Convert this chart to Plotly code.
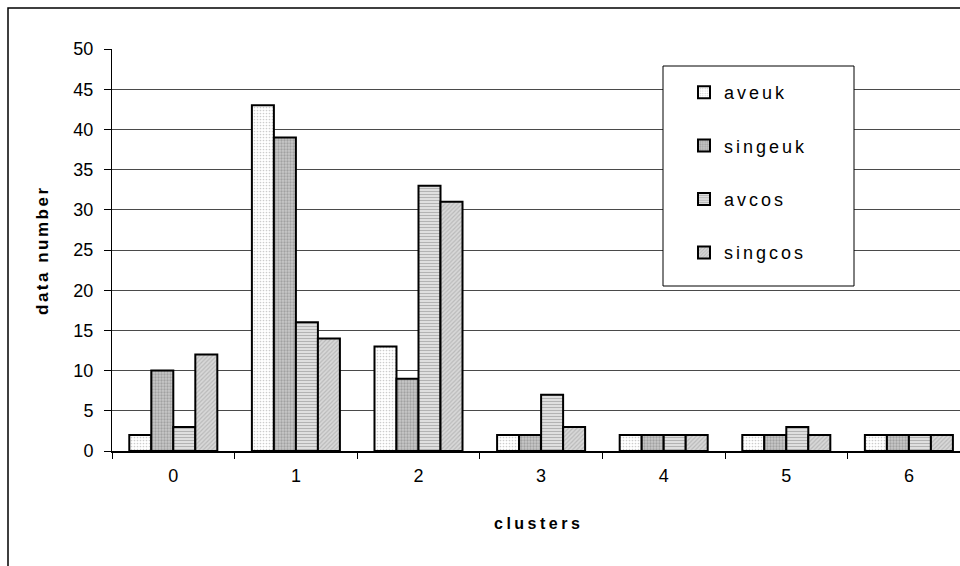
import plotly.graph_objects as go

clusters = ["0", "1", "2", "3", "4", "5", "6"]
aveuk = [2, 43, 13, 2, 2, 2, 2]
singeuk = [10, 39, 9, 2, 2, 2, 2]
avcos = [3, 16, 33, 7, 2, 3, 2]
singcos = [12, 14, 31, 3, 2, 2, 2]
y_ticks = [0, 5, 10, 15, 20, 25, 30, 35, 40, 45, 50]

FONT = "Liberation Sans, Arial, sans-serif"

def ls(t, px=3):
    return f'<span style="letter-spacing:{px}px">{t}</span>'

series = [
    ("aveuk", aveuk, dict(shape=".", bgcolor="#ffffff", fgcolor="#9a9a9a", size=3, solidity=0.25)),
    ("singeuk", singeuk, dict(shape=".", bgcolor="#c8c8c8", fgcolor="#7a7a7a", size=3, solidity=0.45)),
    ("avcos", avcos, dict(shape="-", bgcolor="#eeeeee", fgcolor="#777777", size=3, solidity=0.5)),
    ("singcos", singcos, dict(shape="/", bgcolor="#d8d8d8", fgcolor="#9a9a9a", size=3, solidity=0.4)),
]

fig = go.Figure()
for name, vals, pat in series:
    fig.add_trace(go.Bar(
        x=clusters, y=vals, name=ls(name, 3), legendgroup=name,
        marker=dict(color=pat["bgcolor"], pattern=pat,
                    line=dict(color="#000000", width=2)),
    ))

W, H = 960, 566
L, R, T, B = 112, 0, 49, 115
pw, ph = W - L - R, H - T - B
CAT = 122.6
def px(x):
    return (x - L) / pw
def py(y):
    return (H - B - y) / ph

fig.update_layout(
    width=W, height=H,
    margin=dict(l=L, r=R, t=T, b=B, pad=0),
    paper_bgcolor="white", plot_bgcolor="white",
    barmode="group", bargap=0.282, bargroupgap=0,
    font=dict(family=FONT, size=18, color="#000000"),
    showlegend=True,
    legend=dict(
        x=px(684), y=py(74), xanchor="left", yanchor="top",
        bgcolor="rgba(0,0,0,0)", borderwidth=0,
        font=dict(family=FONT, size=18, color="#000000"),
        traceorder="grouped", tracegroupgap=27,
    ),
    xaxis=dict(
        type="category", range=[-0.5, -0.5 + pw / CAT],
        showline=True, linecolor="#000000", linewidth=1.5,
        ticks="outside", tickson="boundaries", ticklen=6, tickcolor="#000000",
        tickfont=dict(family=FONT, size=18), ticklabelstandoff=8,
        showgrid=False, zeroline=False, fixedrange=True,
    ),
    yaxis=dict(
        range=[0, 50], tickvals=y_ticks, ticktext=[str(v) for v in y_ticks],
        showline=True, linecolor="#000000", linewidth=1,
        ticks="outside", ticklen=7, tickcolor="#000000",
        tickfont=dict(family=FONT, size=18), ticklabelstandoff=7,
        showgrid=True, gridcolor="#4a4a4a", gridwidth=1,
        zeroline=False, fixedrange=True,
    ),
    annotations=[
        dict(text=ls("<b>data number</b>", 2.5), xref="paper", yref="paper",
             x=px(42), y=py(250), xanchor="center", yanchor="middle",
             textangle=-90, showarrow=False,
             font=dict(family=FONT, size=17, color="#000000")),
        dict(text=ls("<b>clusters</b>", 3.5), xref="paper", yref="paper",
             x=px(538), y=py(523), xanchor="center", yanchor="middle",
             showarrow=False,
             font=dict(family=FONT, size=16, color="#000000")),
    ],
    shapes=[
        dict(type="rect", xref="paper", yref="paper",
             x0=px(8), x1=px(1100), y0=py(700), y1=py(8),
             line=dict(color="#000000", width=1.5), fillcolor="rgba(0,0,0,0)",
             layer="above"),
        dict(type="rect", xref="paper", yref="paper",
             x0=px(663), x1=px(854), y0=py(286), y1=py(66),
             line=dict(color="#000000", width=1), fillcolor="#ffffff",
             layer="above"),
    ],
)

fig.write_html("out.html")
